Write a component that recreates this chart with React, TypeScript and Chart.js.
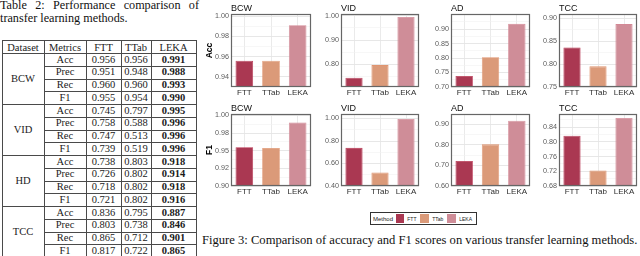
import React, { useEffect, useRef } from "react";
import { Chart, registerables } from "chart.js";

Chart.register(...registerables);

const SANS = "'Liberation Sans', Arial, sans-serif";
const SERIF = "'Liberation Serif', 'Times New Roman', serif";

// ---------------- Data: figure ----------------
const METHODS = ["FTT", "TTab", "LEKA"];
const FIG_DATASETS = ["BCW", "VID", "AD", "TCC"];
const METRIC_TITLES = ["Acc", "F1"];

const ACC_BCW = [0.956, 0.956, 0.991];
const ACC_VID = [0.745, 0.797, 0.995];
const ACC_AD = [0.738, 0.803, 0.918];
const ACC_TCC = [0.836, 0.795, 0.887];

const F1_BCW = [0.955, 0.954, 0.99];
const F1_VID = [0.739, 0.519, 0.996];
const F1_AD = [0.721, 0.802, 0.916];
const F1_TCC = [0.817, 0.722, 0.865];

// y-axis ranges [min, max]
const ACC_RANGE_BCW = [0.93, 1.002];
const ACC_RANGE_VID = [0.707, 1.007];
const ACC_RANGE_AD = [0.7, 0.952];
const ACC_RANGE_TCC = [0.75, 0.909];
const F1_RANGE_BCW = [0.9, 1.002];
const F1_RANGE_VID = [0.4, 1.04];
const F1_RANGE_AD = [0.6, 0.949];
const F1_RANGE_TCC = [0.68, 0.876];

// major tick values and their labels
const ACC_TICKS_BCW = [0.94, 0.96, 0.98, 1.0];
const ACC_LABELS_BCW = ["0.94", "0.96", "0.98", "1.00"];
const ACC_TICKS_VID = [0.8, 0.9, 1.0];
const ACC_LABELS_VID = ["0.80", "0.90", "1.00"];
const ACC_TICKS_AD = [0.7, 0.75, 0.8, 0.85, 0.9];
const ACC_LABELS_AD = ["0.70", "0.75", "0.80", "0.85", "0.90"];
const ACC_TICKS_TCC = [0.75, 0.8, 0.85, 0.9];
const ACC_LABELS_TCC = ["0.75", "0.80", "0.85", "0.90"];
const F1_TICKS_BCW = [0.9, 0.925, 0.95, 0.975, 1.0];
const F1_LABELS_BCW = ["0.90", "0.92", "0.95", "0.98", "1.00"];
const F1_TICKS_VID = [0.4, 0.6, 0.8, 1.0];
const F1_LABELS_VID = ["0.40", "0.60", "0.80", "1.00"];
const F1_TICKS_AD = [0.6, 0.7, 0.8, 0.9];
const F1_LABELS_AD = ["0.60", "0.70", "0.80", "0.90"];
const F1_TICKS_TCC = [0.68, 0.72, 0.76, 0.8, 0.84];
const F1_LABELS_TCC = ["0.68", "0.72", "0.76", "0.80", "0.84"];

// ---------------- Data: table ----------------
const TABLE_CAPTION = "Table 2: Performance comparison of transfer learning methods.";
const FIG_CAPTION = "Figure 3: Comparison of accuracy and F1 scores on various transfer learning methods.";
const TABLE_HEADERS = ["Dataset", "Metrics", "FTT", "TTab", "LEKA"];
const TABLE_DATASETS = ["BCW", "VID", "HD", "TCC"];
const TABLE_METRICS = ["Acc", "Prec", "Rec", "F1"];
const TABLE_FTT = [0.956, 0.951, 0.96, 0.955, 0.745, 0.758, 0.747, 0.739, 0.738, 0.726, 0.718, 0.721, 0.836, 0.803, 0.865, 0.817];
const TABLE_TTAB = [0.956, 0.948, 0.96, 0.954, 0.797, 0.588, 0.513, 0.519, 0.803, 0.802, 0.802, 0.802, 0.795, 0.738, 0.712, 0.722];
const TABLE_LEKA = [0.991, 0.988, 0.993, 0.99, 0.995, 0.996, 0.996, 0.996, 0.918, 0.914, 0.918, 0.916, 0.887, 0.846, 0.901, 0.865];

// ---------------- Styles ----------------
const FILL = ["#aa3852", "#db9a79", "#cf8d98"];
const EDGE = ["#b8304e", "#e0946f", "#d38895"];
const GRID_MAJOR = "#e4e4e4";
const GRID_MINOR = "#f2f2f2";

const COL_FRAMES = [
  [231, 311],
  [341, 419],
  [451, 530],
  [559, 637],
];
const ROW_FRAMES = [
  [14, 87],
  [114, 186],
];

const framePlugin = {
  id: "panelFrame",
  afterDraw(chart: any) {
    const { ctx, chartArea } = chart;
    const { left, top, right, bottom } = chartArea;
    ctx.save();
    ctx.strokeStyle = "#666";
    ctx.lineWidth = 1.2;
    ctx.strokeRect(left + 0.5, top + 0.5, right - left - 1, bottom - top - 1);
    ctx.restore();
  },
};

type PanelProps = {
  frame: number[];
  title: string;
  values: number[];
  range: number[];
  ticks: number[];
  labels: string[];
  yTitle?: string;
  axisW: number;
};

function Panel({ frame, title, values, range, ticks, labels, yTitle, axisW }: PanelProps) {
  const ref = useRef<HTMLCanvasElement>(null);
  const [L, T, R, B] = frame;
  const titleH = 14;
  const xAxisH = 12;
  const width = R - L + axisW + 1;
  const height = B - T + titleH + xAxisH;

  useEffect(() => {
    const minors: number[] = [];
    for (let i = 0; i < ticks.length - 1; i++) minors.push((ticks[i] + ticks[i + 1]) / 2);
    const step = ticks[1] - ticks[0];
    if (ticks[0] - step / 2 > range[0] + 1e-9) minors.push(ticks[0] - step / 2);
    if (ticks[ticks.length - 1] + step / 2 < range[1] - 1e-9) minors.push(ticks[ticks.length - 1] + step / 2);

    const chart = new Chart(ref.current as HTMLCanvasElement, {
      type: "bar",
      data: {
        labels: METHODS,
        datasets: [
          {
            data: values,
            backgroundColor: FILL,
            borderColor: EDGE,
            borderWidth: 0.8,
            barPercentage: 0.66,
            categoryPercentage: 1,
          } as any,
        ],
      },
      options: {
        responsive: false,
        animation: false,
        devicePixelRatio: 1,
        layout: { padding: { top: 0, right: 1, left: 0, bottom: 0 } },
        plugins: {
          legend: { display: false },
          tooltip: { enabled: false },
          title: {
            display: true,
            text: title,
            align: "start",
            fullSize: false,
            color: "#111",
            font: { family: SANS, size: 9, weight: "normal", lineHeight: 1 },
            padding: { top: 4, bottom: 1 },
          } as any,
        },
        scales: {
          x: {
            type: "category",
            offset: true,
            afterFit: (s: any) => {
              s.height = xAxisH;
            },
            ticks: {
              autoSkip: false,
              maxRotation: 0,
              minRotation: 0,
              align: "center",
              padding: 1,
              color: "#2e2e2e",
              font: { family: SANS, size: 8 },
            },
            grid: { color: GRID_MAJOR, lineWidth: 0.8, drawTicks: false, offset: false },
            border: { display: false },
          },
          y: {
            type: "linear",
            min: range[0],
            max: range[1],
            afterBuildTicks: (axis: any) => {
              const all = [
                ...ticks.map((v) => ({ value: v })),
                ...minors.map((v) => ({ value: v, minor: true })),
              ];
              all.sort((a, b) => a.value - b.value);
              axis.ticks = all;
            },
            afterFit: (s: any) => {
              s.width = axisW;
            },
            ticks: {
              autoSkip: false,
              padding: 2,
              color: "#5c5c5c",
              font: { family: SANS, size: 7.2 },
              callback: (v: any) => {
                const i = ticks.findIndex((t) => Math.abs(t - Number(v)) < 1e-9);
                return i >= 0 ? labels[i] : "";
              },
            },
            grid: {
              drawTicks: false,
              color: (ctx: any) => (ctx.tick && ctx.tick.minor ? GRID_MINOR : GRID_MAJOR),
              lineWidth: (ctx: any) => (ctx.tick && ctx.tick.minor ? 0.6 : 0.9),
            },
            border: { display: false },
            title: {
              display: !!yTitle,
              text: yTitle || "",
              color: "#000",
              font: { family: SANS, size: 8.5, weight: "bold", lineHeight: 1.2 },
              padding: { top: 2, bottom: 0 },
            },
          },
        },
      } as any,
      plugins: [framePlugin],
    });
    return () => chart.destroy();
  }, []);

  return (
    <canvas
      ref={ref}
      width={width}
      height={height}
      style={{ position: "absolute", left: L - axisW, top: T - titleH, width, height }}
    />
  );
}

function Table() {
  const colX = [2, 44, 86, 121, 151, 196];
  const top = 40;
  const headerBottom = 53;
  const rowH = 12.75;
  const lineColor = "#4a4a4a";
  const els: any[] = [];
  els.push(<div key="ht" style={{ position: "absolute", left: colX[0], top, width: colX[5] - colX[0] + 1, height: 1, background: lineColor }} />);
  els.push(<div key="hh" style={{ position: "absolute", left: colX[0], top: headerBottom, width: colX[5] - colX[0] + 1, height: 1, background: lineColor }} />);
  for (let r = 1; r <= 16; r++) {
    const y = Math.round(headerBottom + r * rowH);
    const full = r % 4 === 0;
    const x0 = full ? colX[0] : colX[1];
    els.push(<div key={"h" + r} style={{ position: "absolute", left: x0, top: y, width: colX[5] - x0 + 1, height: 1, background: lineColor }} />);
  }
  colX.forEach((x, i) => {
    els.push(<div key={"v" + i} style={{ position: "absolute", left: x, top, width: 1, height: 256 - top, background: lineColor }} />);
  });
  TABLE_HEADERS.forEach((h, i) => {
    els.push(
      <div key={"th" + i} style={{ position: "absolute", left: colX[i], width: colX[i + 1] - colX[i], top: top + 0.5, height: headerBottom - top, lineHeight: `${headerBottom - top}px`, textAlign: "center" }}>{h}</div>
    );
  });
  TABLE_DATASETS.forEach((d, g) => {
    const y0 = headerBottom + g * 4 * rowH;
    els.push(
      <div key={"ds" + g} style={{ position: "absolute", left: colX[0], width: colX[1] - colX[0], top: y0, height: 4 * rowH, lineHeight: `${4 * rowH}px`, textAlign: "center" }}>{d}</div>
    );
  });
  for (let r = 0; r < 16; r++) {
    const y0 = headerBottom + r * rowH + 0.5;
    const cells = [TABLE_METRICS[r % 4], TABLE_FTT[r].toFixed(3), TABLE_TTAB[r].toFixed(3), TABLE_LEKA[r].toFixed(3)];
    cells.forEach((c, j) => {
      els.push(
        <div key={`c${r}_${j}`} style={{ position: "absolute", left: colX[j + 1], width: colX[j + 2] - colX[j + 1], top: y0, height: rowH, lineHeight: `${rowH}px`, textAlign: "center", fontWeight: j === 3 ? "bold" : "normal" }}>{c}</div>
      );
    });
  }
  return <div style={{ position: "absolute", left: 0, top: 0, width: 200, height: 256, fontFamily: SERIF, fontSize: 10.5, color: "#1a1a1a" }}>{els}</div>;
}

function Legend() {
  return (
    <div style={{ position: "absolute", left: 370, top: 212, width: 107, height: 13, border: "1px solid #333", boxSizing: "border-box", fontFamily: SANS, display: "flex", alignItems: "center", paddingLeft: 2, color: "#222" }}>
      <span style={{ fontSize: 6, marginRight: 2.5 }}>Method</span>
      {METHODS.map((m, i) => (
        <React.Fragment key={m}>
          <span style={{ display: "inline-block", width: 10, height: 9, background: FILL[i] }} />
          <span style={{ fontSize: 5, marginLeft: 3, marginRight: 4 }}>{m}</span>
        </React.Fragment>
      ))}
    </div>
  );
}

export default function App() {
  const accValues = [ACC_BCW, ACC_VID, ACC_AD, ACC_TCC];
  const f1Values = [F1_BCW, F1_VID, F1_AD, F1_TCC];
  const accRanges = [ACC_RANGE_BCW, ACC_RANGE_VID, ACC_RANGE_AD, ACC_RANGE_TCC];
  const f1Ranges = [F1_RANGE_BCW, F1_RANGE_VID, F1_RANGE_AD, F1_RANGE_TCC];
  const accTicks = [ACC_TICKS_BCW, ACC_TICKS_VID, ACC_TICKS_AD, ACC_TICKS_TCC];
  const f1Ticks = [F1_TICKS_BCW, F1_TICKS_VID, F1_TICKS_AD, F1_TICKS_TCC];
  const accLabels = [ACC_LABELS_BCW, ACC_LABELS_VID, ACC_LABELS_AD, ACC_LABELS_TCC];
  const f1Labels = [F1_LABELS_BCW, F1_LABELS_VID, F1_LABELS_AD, F1_LABELS_TCC];

  const rows = [
    { values: accValues, ranges: accRanges, ticks: accTicks, labels: accLabels },
    { values: f1Values, ranges: f1Ranges, ticks: f1Ticks, labels: f1Labels },
  ];

  return (
    <div style={{ position: "fixed", left: 0, top: 0, width: 640, height: 256, background: "#fff", overflow: "hidden" }}>
      <div style={{ position: "absolute", left: 0, top: -1, width: 199, fontFamily: SERIF, fontSize: 12.2, lineHeight: "13px", textAlign: "justify", color: "#111" }}>
        {TABLE_CAPTION}
      </div>
      <Table />
      {rows.map((row, r) =>
        FIG_DATASETS.map((d, c) => (
          <Panel
            key={`${r}-${c}`}
            frame={[COL_FRAMES[c][0], ROW_FRAMES[r][0], COL_FRAMES[c][1], ROW_FRAMES[r][1]]}
            title={d}
            values={row.values[c]}
            range={row.ranges[c]}
            ticks={row.ticks[c]}
            labels={row.labels[c]}
            yTitle={c === 0 ? METRIC_TITLES[r] : undefined}
            axisW={c === 0 ? 28 : 22}
          />
        ))
      )}
      <Legend />
      <div style={{ position: "absolute", left: 202, top: 234, fontFamily: SERIF, fontSize: 12.6, lineHeight: "13px", whiteSpace: "nowrap", color: "#111" }}>
        {FIG_CAPTION}
      </div>
    </div>
  );
}
